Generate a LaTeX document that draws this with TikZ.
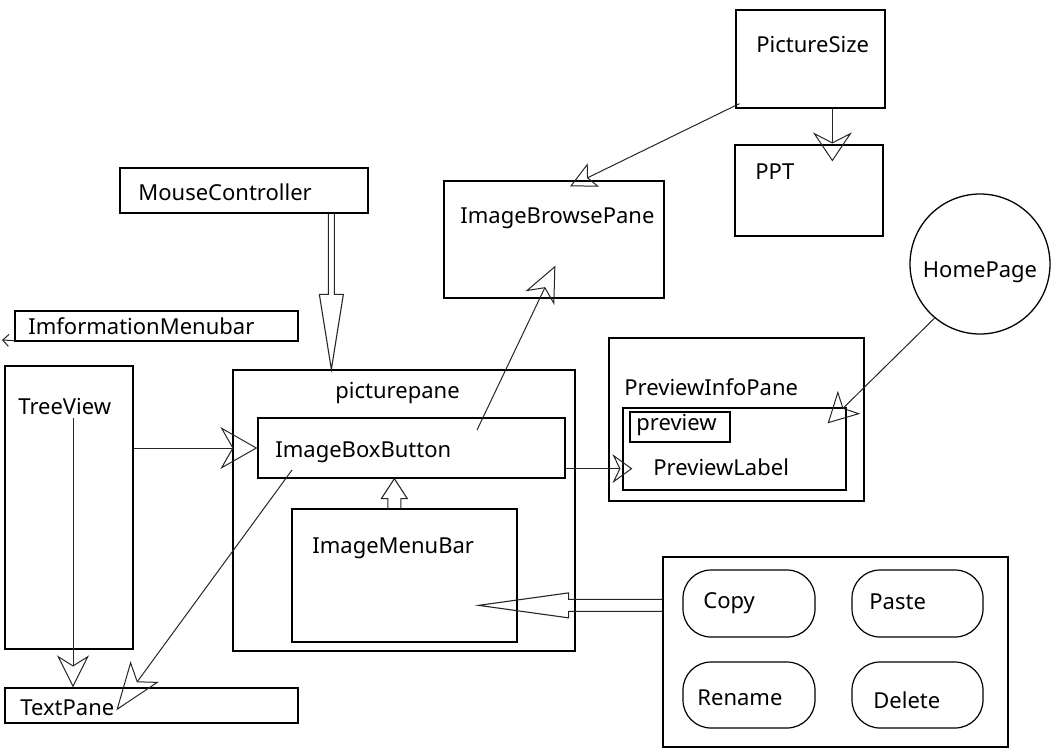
\documentclass[tikz,border=0pt]{standalone}
\usepackage{fontspec}
\setmainfont{Noto Sans}
\usetikzlibrary{positioning}
\usetikzlibrary{arrows.meta,shapes}
\usetikzlibrary{calc,fit}
\tikzstyle{box}=[draw,rectangle,inner sep=0pt,line width=0.65pt]
\tikzstyle{btn}=[draw,rectangle,rounded corners=14pt,inner sep=0pt,line width=0.6pt]
\tikzstyle{txt}=[anchor=west,inner sep=0pt,font=\fontsize{11}{13}\selectfont]
\tikzstyle{edge}=[draw,line width=0.5pt,black!85]
\tikzset{opentip/.style n args={3}{-{Stealth[open,length=#1,width=#2,inset=#3]}}}

% hollow block arrow: from, to, shaft half width, head half width, head length
\newcommand{\hollowarrow}[5]{%
  \coordinate (hb) at ($(#2)!#5!(#1)$);
  \draw[line width=0.55pt,black!85] ($(#1)!#3!90:(#2)$) -- ($(hb)!#3!90:(#2)$) -- ($(hb)!#4!90:(#2)$) -- (#2)
     -- ($(hb)!#4!-90:(#2)$) -- ($(hb)!#3!-90:(#2)$) -- ($(#1)!#3!-90:(#2)$);
}

\begin{document}
\begin{tikzpicture}[x=0.5pt, y=-0.5pt]
  \useasboundingbox (0,0) rectangle (1059,751);

  % plain boxes
  \foreach \name/\xa/\ya/\xb/\yb in {ps/736/10/885/108, ppt/735/145/883/236, mc/120/168/368/213,
        ibp/444/181/664/298, info/15/311/298/341, tv/5/366/133/649, pp/233/370/575/651,
        ibb/258/418/565/478, imb/292/509/517/642, pip/609/338/864/501, pl/623/408/846/490,
        pv/630/412/730/442, grp/663/557/1008/747, tp/5/688/298/723}
     \node[box, fit={(\xa,\ya) (\xb,\yb)}] (\name) {};

  % buttons
  \foreach \name/\xa/\ya/\xb/\yb in {copy/683/570/815/637, paste/852/570/983/637,
        rename/683/662/815/728, delete/852/662/983/728}
     \node[btn, fit={(\xa,\ya) (\xb,\yb)}] (\name) {};

  \node[circle, draw, line width=0.65pt, minimum size=70pt, inner sep=0pt] (hp) at (980,264) {};

  % labels
  \foreach \name/\x/\y/\label in {tps/756/44/PictureSize, tppt/755/172/PPT, tmc/138/192/MouseController,
        tibp/460/218/ImageBrowsePane, tinfo/28/326/ImformationMenubar, ttv/18/406/TreeView,
        tpp/335/393/picturepane, tibb/275/452/ImageBoxButton, timb/312/548/ImageMenuBar,
        tpip/624/387/PreviewInfoPane, tpv/636/425/preview, tpl/653/467/PreviewLabel,
        tcopy/703/603/Copy, tpaste/869/602/Paste, trename/697/698/Rename, tdelete/873/700/Delete,
        ttp/20/708/TextPane}
     \node[txt] (\name) at (\x,\y) {\label};
  \node[txt, anchor=center] (thp) at (980,272) {HomePage};

  % free ends
  \coordinate (tvtop) at (73,418);
  \coordinate (ibbup) at (477,430);
  \coordinate (ibbdown) at (292,470);
  \coordinate (ibbr) at ($(ibb.south east)+(0,-10)$);
  \coordinate (infoend) at (2,340);

  \draw[edge, opentip={18.5pt}{21pt}{6pt}] (ibb.west -| tv.east) -- (ibb.west);
  \draw[edge, opentip={16pt}{16pt}{5pt}] (tvtop) -- (tvtop |- tp.north);
  \draw[edge, opentip={18pt}{16pt}{5.5pt}] (ibbup) -- ($(ibp.south west)+(112,-33)$);
  \draw[edge, opentip={10pt}{14.5pt}{3.5pt}] (ibbr) -- ($(ibbr -| pl.west)+(10,0)$);
  \draw[edge, opentip={15pt}{16pt}{4pt}] (hp.230) -- ($(pl.north east)+(-19,16)$);
  \draw[edge, opentip={13pt}{13pt}{3pt}] ($(ps.south west)+(4,-5)$) -- ($(ibp.north)+(16,6)$);
  \draw[edge, opentip={14.5pt}{19.5pt}{5pt}] ($(ps.south west)+(97,0)$) -- ($(ppt.north west)+(98,17)$);
  \draw[edge, opentip={24pt}{17.5pt}{6pt}] (ibbdown) -- ($(tp.north west)+(112,23)$);
  \draw[edge, -{Straight Barb[length=3pt,width=6pt]}] ($(info.south west)+(0,-1)$) -- (infoend);

  % block arrows
  \coordinate (mcfoot) at ($(mc.south west)+(212,0)$);
  \hollowarrow{mcfoot}{mcfoot |- pp.north}{1.5pt}{6pt}{37.5pt}
  \coordinate (imbtop) at ($(imb.north west)+(103,0)$);
  \hollowarrow{imbtop}{imbtop |- ibb.south}{3.25pt}{6.5pt}{10pt}
  \coordinate (grpside) at ($(grp.north west)+(0,49)$);
  \coordinate (imbin) at ($(grpside -| imb.east)+(-39,0)$);
  \hollowarrow{grpside}{imbin}{3pt}{6.25pt}{45pt}

\end{tikzpicture}
\end{document}
